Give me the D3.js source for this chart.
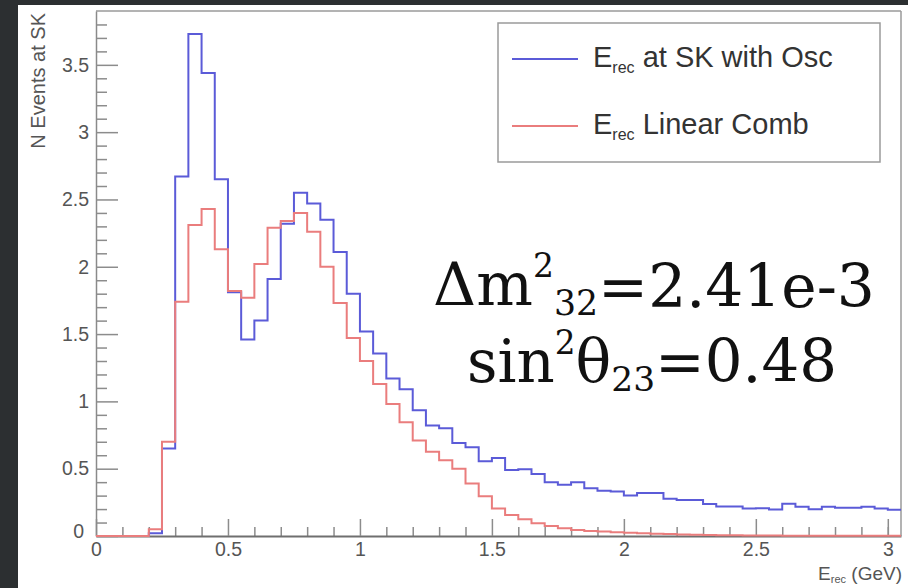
<!DOCTYPE html>
<html>
<head>
<meta charset="utf-8">
<script src="https://cdn.jsdelivr.net/npm/d3@7"></script>
<style>
  html, body { margin: 0; padding: 0; background: #2c2f31; }
  svg { display: block; }
</style>
</head>
<body>
<svg id="chart" width="908" height="588"></svg>
<script>
// ---------------- DATA ----------------
const binLow = [0.00,0.05,0.10,0.15,0.20,0.25,0.30,0.35,0.40,0.45,
                0.50,0.55,0.60,0.65,0.70,0.75,0.80,0.85,0.90,0.95,
                1.00,1.05,1.10,1.15,1.20,1.25,1.30,1.35,1.40,1.45,
                1.50,1.55,1.60,1.65,1.70,1.75,1.80,1.85,1.90,1.95,
                2.00,2.05,2.10,2.15,2.20,2.25,2.30,2.35,2.40,2.45,
                2.50,2.55,2.60,2.65,2.70,2.75,2.80,2.85,2.90,2.95,
                3.00];
const xMax = 3.05;

const oscSK = [0,0,0,0,0.02,0.65,2.67,3.73,3.44,2.65,
               1.81,1.46,1.60,1.91,2.32,2.55,2.47,2.35,2.11,1.80,
               1.52,1.355,1.17,1.09,0.935,0.82,0.80,0.69,0.66,0.556,
               0.58,0.49,0.495,0.46,0.40,0.38,0.40,0.354,0.336,0.33,
               0.30,0.32,0.32,0.277,0.267,0.267,0.237,0.22,0.22,0.205,
               0.207,0.196,0.24,0.217,0.198,0.217,0.21,0.21,0.218,0.205,
               0.195];

const linComb = [0,0,0,0,0.05,0.70,1.74,2.31,2.43,2.13,
                 1.82,1.77,2.02,2.29,2.34,2.40,2.26,2.00,1.73,1.47,
                 1.30,1.13,0.98,0.845,0.71,0.625,0.563,0.50,0.39,0.295,
                 0.205,0.156,0.124,0.094,0.074,0.057,0.045,0.037,0.033,0.028,
                 0.024,0.02,0.017,0.014,0.012,0.01,0.008,0.006,0.005,0.004,
                 0.003,0.003,0.002,0.002,0.002,0.001,0.001,0.001,0.001,0.001,
                 0.001];

const xMajorTicks = [0,0.5,1,1.5,2,2.5,3];
const xTickLabels = ["0","0.5","1","1.5","2","2.5","3"];
const xMinorTicks = [0.1,0.2,0.3,0.4,0.6,0.7,0.8,0.9,1.1,1.2,1.3,1.4,1.6,1.7,1.8,1.9,
                     2.1,2.2,2.3,2.4,2.6,2.7,2.8,2.9,3.0];
const yMajorTicks = [0,0.5,1,1.5,2,2.5,3,3.5];
const yTickLabels = ["0","0.5","1","1.5","2","2.5","3","3.5"];
const yMinorTicks = [0.1,0.2,0.3,0.4,0.6,0.7,0.8,0.9,1.1,1.2,1.3,1.4,1.6,1.7,1.8,1.9,
                     2.1,2.2,2.3,2.4,2.6,2.7,2.8,2.9,3.1,3.2,3.3,3.4,3.6,3.7,3.8];

const seriesNames = ["at SK with Osc", "Linear Comb"];
const seriesColors = ["#5b5bd8", "#ea7d7d"];

// ---------------- CHART ----------------
(function () {
const svg = d3.select("#chart");
const W = 908, H = 588;
svg.append("rect").attr("width", W).attr("height", H).attr("fill", "#2c2f31");
svg.append("rect").attr("x", 18).attr("y", 5).attr("width", W - 18).attr("height", H - 5).attr("fill", "#ffffff");

const pL = 96, pR = 901, pT = 11, pB = 536;
const x = d3.scaleLinear().domain([0, xMax]).range([pL, pR]);
const y = d3.scaleLinear().domain([0, 3.9]).range([pB, pT]);

// frame (top and right)
svg.append("line").attr("x1", pL).attr("x2", pR).attr("y1", pT).attr("y2", pT)
  .attr("stroke", "#9a9a9a").attr("stroke-width", 1.5);
svg.append("line").attr("x1", pR).attr("x2", pR).attr("y1", pT).attr("y2", pB)
  .attr("stroke", "#9a9a9a").attr("stroke-width", 1.5);

const font = "'Liberation Sans', Arial, Helvetica, sans-serif";

// x axis
const gxMinor = svg.append("g").attr("transform", `translate(0,${pB})`)
  .call(d3.axisBottom(x).tickValues(xMinorTicks).tickSize(-9).tickSizeOuter(0).tickFormat(""));
gxMinor.select(".domain").remove();
const gx = svg.append("g").attr("transform", `translate(0,${pB})`)
  .call(d3.axisBottom(x).tickValues(xMajorTicks).tickSize(-17).tickSizeOuter(0).tickPadding(6)
        .tickFormat((d, i) => xTickLabels[i]));
gx.select(".domain").attr("stroke", "#6f6f6f").attr("stroke-width", 2);

// y axis
const gyMinor = svg.append("g").attr("transform", `translate(${pL},0)`)
  .call(d3.axisLeft(y).tickValues(yMinorTicks).tickSize(-11).tickSizeOuter(0).tickFormat(""));
gyMinor.select(".domain").remove();
const gy = svg.append("g").attr("transform", `translate(${pL},0)`)
  .call(d3.axisLeft(y).tickValues(yMajorTicks).tickSize(-22).tickSizeOuter(0).tickPadding(7)
        .tickFormat((d, i) => yTickLabels[i]));
gy.select(".domain").attr("stroke", "#8a8a8a").attr("stroke-width", 1.5);

svg.selectAll(".tick line").attr("stroke", "#8c8c8c").attr("stroke-width", 1.5);
svg.selectAll(".tick text").attr("fill", "#555").style("font-family", font).style("font-size", "19.5px");
gy.selectAll(".tick text").filter(d => d === 0).attr("dy", "0.1em").attr("x", -12);

// axis titles
svg.append("text")
  .attr("transform", `translate(45,13) rotate(-90)`)
  .attr("text-anchor", "end")
  .attr("fill", "#555").style("font-family", font).style("font-size", "20px")
  .text("N Events at SK");

const xt = svg.append("text").attr("x", 902).attr("y", 580).attr("text-anchor", "end")
  .attr("fill", "#555").style("font-family", font).style("font-size", "19px");
xt.append("tspan").text("E");
xt.append("tspan").attr("dy", 3).style("font-size", "11px").text("rec");
xt.append("tspan").attr("dy", -3).text(" (GeV)");

// histograms
const line = d3.line().x(d => x(d[0])).y(d => y(d[1])).curve(d3.curveStepAfter);
[oscSK, linComb].forEach((vals, k) => {
  const pts = binLow.map((b, i) => [b, vals[i]]);
  pts.push([xMax, vals[vals.length - 1]]);
  svg.append("path").datum(pts).attr("d", line)
    .attr("fill", "none").attr("stroke", seriesColors[k]).attr("stroke-width", 2);
});

// legend
svg.append("rect").attr("x", 498).attr("y", 23).attr("width", 382).attr("height", 139)
  .attr("fill", "#fff").attr("stroke", "#9a9a9a").attr("stroke-width", 1.5);
const legY = [59, 126];
seriesNames.forEach((name, k) => {
  svg.append("line").attr("x1", 512).attr("x2", 578).attr("y1", legY[k]).attr("y2", legY[k])
    .attr("stroke", seriesColors[k]).attr("stroke-width", 2);
  const t = svg.append("text").attr("x", 593).attr("y", legY[k] + 8)
    .attr("fill", "#333").style("font-family", font).style("font-size", "29px");
  t.append("tspan").text("E");
  t.append("tspan").attr("dy", 6).style("font-size", "16px").text("rec");
  t.append("tspan").attr("dy", -6).text(" " + name);
});

// annotation
function annot(cx, baseline, targetW, parts) {
  const t = svg.append("text").attr("x", cx).attr("y", baseline).attr("text-anchor", "middle")
    .attr("fill", "#111").style("font-family", "'DejaVu Serif', serif").style("font-size", "55px");
  parts.forEach(p => {
    const s = t.append("tspan").text(p.t);
    if (p.fs) s.style("font-size", p.fs);
    if (p.dy) s.attr("dy", p.dy);
  });
  const w = t.node().getComputedTextLength();
  t.style("font-size", (55 * targetW / w) + "px");
}
annot(654, 305, 442, [
  {t: "Δm"},
  {t: "2", fs: "0.55em", dy: "-0.85em"},
  {t: "32", fs: "0.58em", dy: "1.1em"},
  {t: "=2.41e-3", dy: "-0.145em"}
]);
annot(652, 382, 370, [
  {t: "sin"},
  {t: "2", fs: "0.55em", dy: "-0.85em"},
  {t: "θ", dy: "0.47em"},
  {t: "23", fs: "0.58em", dy: "0.25em"},
  {t: "=0.48", dy: "-0.145em"}
]);
})();
</script>
</body>
</html>
